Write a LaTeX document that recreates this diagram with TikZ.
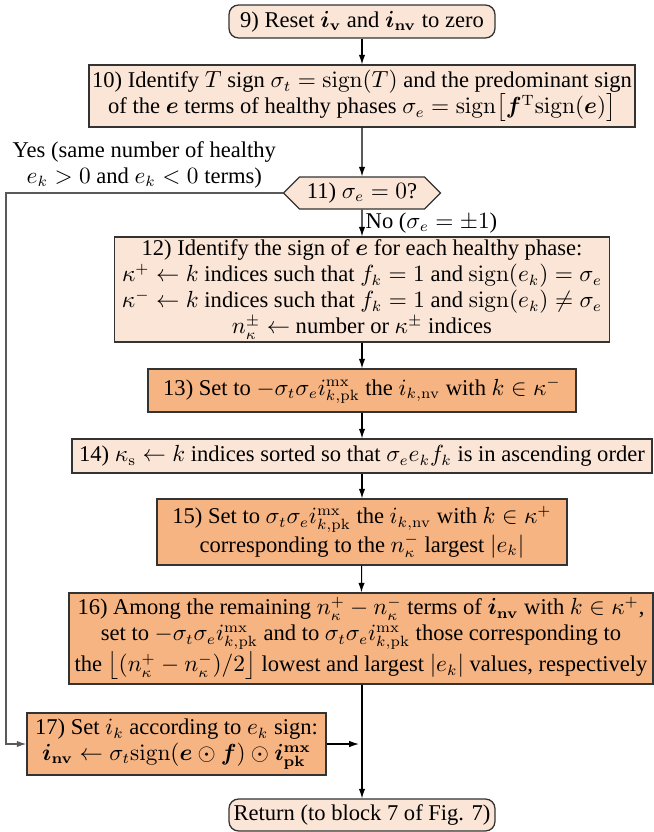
\documentclass[tikz,border=0pt]{standalone}
\usepackage{amsmath}
\usepackage{bm}
\usepackage[no-math]{fontspec}
\setmainfont{Liberation Serif}
\usetikzlibrary{arrows.meta,shapes.symbols}
\definecolor{lightfill}{HTML}{FBE5D6}
\definecolor{darkfill}{HTML}{F6B482}
\newcommand\pxu{0.47pt}
\begin{document}
\begin{tikzpicture}[x=0.47pt,y=-0.47pt,
  every node/.style={font=\fontsize{10.6}{12.2}\selectfont},
  box/.style={draw=black!80, line width=0.6pt, align=center, inner xsep=1.5pt, inner ysep=1pt},
  lbox/.style={box, fill=lightfill},
  dbox/.style={box, fill=darkfill},
  rbox/.style={lbox, rounded corners=4.5pt},
  hexa/.style={draw=black!80, line width=0.6pt, fill=lightfill, shape=signal, signal to=east and west, signal pointer angle=90, inner xsep=2pt, inner ysep=1pt},
  arr/.style={-{Latex[length=4.5pt,width=3pt]}, line width=0.5pt},
  loopline/.style={-{Latex[length=4.5pt,width=3pt]}, line width=0.6pt, draw=black!65}]
\useasboundingbox (0,0) rectangle (654,832);

\node[rbox, minimum width=266*\pxu, minimum height=33*\pxu] (n9) at (362,21.5)
  {9) Reset $\bm{i}_{\mathbf{v}}$ and $\bm{i}_{\mathbf{nv}}$ to zero};

\node[lbox, minimum width=545*\pxu, minimum height=62*\pxu] (n10) at (362,96)
  {10) Identify $T$ sign $\sigma_t=\mathrm{sign}(T)$ and the predominant sign\\
   of the $\bm{e}$ terms of healthy phases $\sigma_e=\mathrm{sign}\bigl[\bm{f}^{\mathrm{T}}\mathrm{sign}(\bm{e})\bigr]$};

\node[hexa, minimum width=157*\pxu, minimum height=32*\pxu] (n11) at (362,193)
  {11) $\sigma_e=0$?};

\node[lbox, minimum width=495*\pxu, minimum height=105*\pxu] (n12) at (362,289.5)
  {12) Identify the sign of $\bm{e}$ for each healthy phase:\\
   $\kappa^+\leftarrow k$ indices such that $f_k=1$ and $\mathrm{sign}(e_k)=\sigma_e$\\
   $\kappa^-\leftarrow k$ indices such that $f_k=1$ and $\mathrm{sign}(e_k)\neq\sigma_e$\\
   $n_\kappa^\pm\leftarrow$ number or $\kappa^\pm$ indices};

\node[dbox, minimum width=428*\pxu, minimum height=43*\pxu] (n13) at (362,390.5)
  {13) Set to $-\sigma_t\sigma_e i^{\mathrm{mx}}_{k,\mathrm{pk}}$ the $i_{k,\mathrm{nv}}$ with $k\in\kappa^-$};

\node[lbox, minimum width=580*\pxu, minimum height=34*\pxu] (n14) at (362,456)
  {14) $\kappa_{\mathrm{s}}\leftarrow k$ indices sorted so that $\sigma_e e_k f_k$ is in ascending order};

\node[dbox, minimum width=410*\pxu, minimum height=66*\pxu] (n15) at (362,532)
  {15) Set to $\sigma_t\sigma_e i^{\mathrm{mx}}_{k,\mathrm{pk}}$ the $i_{k,\mathrm{nv}}$ with $k\in\kappa^+$\\
   corresponding to the $n_\kappa^-$ largest $|e_k|$};

\node[dbox, minimum width=584*\pxu, minimum height=91*\pxu] (n16) at (361,638.5)
  {16) Among the remaining $n_\kappa^+-n_\kappa^-$ terms of $\bm{i}_{\mathbf{nv}}$ with $k\in\kappa^+$,\\
   set to $-\sigma_t\sigma_e i^{\mathrm{mx}}_{k,\mathrm{pk}}$ and to $\sigma_t\sigma_e i^{\mathrm{mx}}_{k,\mathrm{pk}}$ those corresponding to\\
   the $\bigl\lfloor(n_\kappa^+-n_\kappa^-)/2\bigr\rfloor$ lowest and largest $|e_k|$ values, respectively};

\node[dbox, minimum width=299*\pxu, minimum height=62*\pxu] (n17) at (176.5,744)
  {17) Set $i_k$ according to $e_k$ sign:\\
   $\bm{i}_{\mathbf{nv}}\leftarrow\sigma_t\mathrm{sign}(\bm{e}\odot\bm{f})\odot\bm{i}^{\mathbf{mx}}_{\mathbf{pk}}$};

\node[rbox, minimum width=266*\pxu, minimum height=32*\pxu] (nR) at (362,815)
  {Return (to block 7 of Fig. 7)};

\coordinate (lc) at (6,193);
\coordinate (mj) at (362,744);

\draw[arr] (n9) -- (n10);
\draw[arr] (n10) -- (n11);
\draw[arr] (n11) -- node[right, inner sep=1.5pt] (nolab) {No ($\sigma_e=\pm1$)} (n12);
\draw[arr] (n12) -- (n13);
\draw[arr] (n13) -- (n14);
\draw[arr] (n14) -- (n15);
\draw[arr] (n15) -- (n16);
\draw[arr] (n16.south -| nR.north) -- (nR);
\draw[arr, shorten >=1.5pt] (n17.east) -- (mj);
\draw[loopline] (n11.west) -- node[above, align=center, inner sep=2pt] (yeslab)
  {Yes (same number of healthy\\ $e_k>0$ and $e_k<0$ terms)} (lc) |- (n17.west);
\end{tikzpicture}
\end{document}
